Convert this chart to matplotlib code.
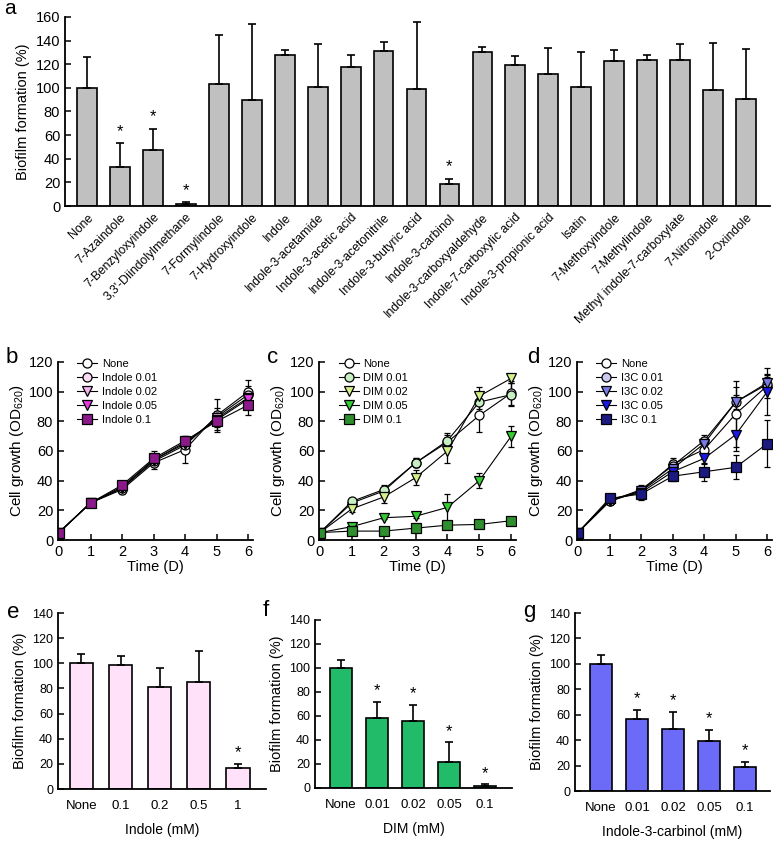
import numpy as np
import matplotlib
matplotlib.use("Agg")
import matplotlib.pyplot as plt

plt.rcParams["font.family"] = ["Liberation Sans", "DejaVu Sans"]
plt.rcParams["mathtext.fontset"] = "custom"
plt.rcParams["mathtext.rm"] = "Liberation Sans"
plt.rcParams["mathtext.it"] = "Liberation Sans"

# ---- panel a: biofilm with indole derivatives
compounds = ["None", "7-Azaindole", "7-Benzyloxyindole", "3,3'-Diindolylmethane",
             "7-Formylindole", "7-Hydroxyindole", "Indole", "Indole-3-acetamide",
             "Indole-3-acetic acid", "Indole-3-acetonitrile", "Indole-3-butyric acid",
             "Indole-3-carbinol", "Indole-3-carboxyaldehyde", "Indole-7-carboxylic acid",
             "Indole-3-propionic acid", "Isatin", "7-Methoxyindole", "7-Methylindole",
             "Methyl indole-7-carboxylate", "7-Nitroindole", "2-Oxindole"]
a_mean = [100, 33, 47, 2, 103, 90, 128, 101, 118, 131, 99, 19, 130, 119, 112, 101,
          123, 124, 124, 98, 91]
a_err = [26, 20, 18, 1, 42, 64, 4, 36, 10, 8, 57, 4, 5, 8, 22, 29, 9, 4, 13, 40, 42]
a_star = [1, 2, 3, 11]

# ---- panels b-d: growth curves
days = [0, 1, 2, 3, 4, 5, 6]
b_labels = ["None", "Indole 0.01", "Indole 0.02", "Indole 0.05", "Indole 0.1"]
b_vals = [[5, 25, 34, 52, 61, 84, 100],
          [5, 25, 35, 53, 64, 83, 98],
          [5, 25, 35, 54, 65, 82, 96],
          [5, 25, 36, 54, 66, 81, 95],
          [5, 25, 37, 55, 67, 80, 91]]
b_errs = [[1, 1.5, 3, 4, 9, 11, 8],
          [1, 1.5, 2, 3, 4, 6, 6],
          [1, 1.5, 2, 3, 4, 5, 5],
          [1, 1.5, 2, 3, 3, 5, 5],
          [1, 1.5, 3, 5, 3, 6, 7]]
c_labels = ["None", "DIM 0.01", "DIM 0.02", "DIM 0.05", "DIM 0.1"]
c_vals = [[5, 25, 33, 52, 66, 84, 99],
          [5, 26, 34, 52, 67, 93, 98],
          [5, 21, 29, 42, 60, 97, 109],
          [5, 9, 15, 16, 22, 40, 70],
          [5, 6, 6, 8, 10, 10.5, 13]]
c_errs = [[1, 2, 3, 3, 5, 11, 8],
          [1, 2, 3, 3, 5, 5, 8],
          [1, 2, 4, 5, 8, 6, 3],
          [1, 1, 1, 1, 9, 5, 7],
          [1, 1, 1, 1, 1, 1, 2]]
d_labels = ["None", "I3C 0.01", "I3C 0.02", "I3C 0.05", "I3C 0.1"]
d_vals = [[5, 26, 33, 51, 61, 85, 104],
          [5, 26, 34, 50, 67, 93, 105],
          [5, 27, 33, 48, 65, 93, 106],
          [5, 27, 32, 46, 55, 71, 100],
          [5, 28, 31, 43, 46, 49, 65]]
d_errs = [[1, 2, 3, 4, 5, 22, 8],
          [1, 2, 3, 4, 4, 10, 5],
          [1, 2, 3, 4, 4, 5, 5],
          [1, 2, 3, 3, 4, 11, 16],
          [1, 2, 4, 3, 6, 8, 16]]

# ---- panels e-g: biofilm dose response
e_ticks = ["None", "0.1", "0.2", "0.5", "1"]
e_mean = [100, 99, 81, 85, 17]
e_err = [7, 7, 15, 25, 3]
e_star = [4]
f_ticks = ["None", "0.01", "0.02", "0.05", "0.1"]
f_mean = [100, 58, 56, 22, 2]
f_err = [7, 14, 13, 16, 1]
f_star = [1, 2, 3, 4]
g_ticks = ["None", "0.01", "0.02", "0.05", "0.1"]
g_mean = [100, 57, 49, 39, 19]
g_err = [7, 7, 13, 9, 4]
g_star = [1, 2, 3, 4]

W, H = 777, 841


def box(l, t, r, b):
    return [l / W, 1 - b / H, (r - l) / W, (b - t) / H]


def letter(x, y, s, size=14):
    fig.text(x / W, 1 - y / H, s, fontsize=size, ha="left", va="center")


def style(ax):
    for sp in ("top", "right"):
        ax.spines[sp].set_visible(False)
    for sp in ("left", "bottom"):
        ax.spines[sp].set_linewidth(1.3)
    ax.tick_params(direction="in", width=1.1, length=4)


fig = plt.figure(figsize=(W / 100, H / 100), dpi=100)

# panel a
ax = fig.add_axes(box(65, 17, 770, 206))
style(ax)
x = np.arange(len(compounds))
ax.bar(x, a_mean, width=0.6, color="#c0c0c0", edgecolor="black", linewidth=1.2)
ax.errorbar(x, a_mean, yerr=[np.zeros(len(x)), a_err], fmt="none", ecolor="black",
            elinewidth=1.2, capsize=3, capthick=1.2)
for i in a_star:
    ax.text(i, a_mean[i] + a_err[i] + 4, "*", ha="center", va="bottom", fontsize=12)
ax.set_xlim(-0.67, len(compounds) - 0.27)
ax.set_ylim(0, 160)
ax.set_yticks(range(0, 161, 20))
ax.set_xticks(x)
ax.set_xticklabels(compounds, rotation=45, ha="right", rotation_mode="anchor", fontsize=8.8)
ax.tick_params(axis="x", length=0, pad=4)
ax.tick_params(axis="y", labelsize=10.5)
ax.set_ylabel("Biofilm formation (%)", fontsize=10.5)
letter(4, 9, "a", 15)

# panels b-d
growth = [("b", box(58, 362, 253, 540), b_labels, b_vals, b_errs,
           ["white", "#fadcf5", "#f3b3ee", "#e03ce0", "#8a1a8a"], 6),
          ("c", box(319, 362, 516, 540), c_labels, c_vals, c_errs,
           ["white", "#c8eec4", "#d4f08a", "#33cc33", "#2f8f2f"], 267),
          ("d", box(577, 362, 772, 540), d_labels, d_vals, d_errs,
           ["white", "#cacaee", "#7a7ae6", "#1a1ae6", "#1a1a80"], 527)]
markers = ["o", "o", "v", "v", "s"]
for tag, pos, labels, vals, errs, colors, lx in growth:
    ax = fig.add_axes(pos)
    style(ax)
    for lab, v, e, c, m in zip(labels, vals, errs, colors, markers):
        ax.errorbar(days, v, yerr=e, color="black", lw=0.8, elinewidth=0.9,
                    capsize=2.5, capthick=0.9, marker=m, markersize=6.5,
                    markerfacecolor=c, markeredgecolor="black", markeredgewidth=0.9,
                    label=lab)
    ax.set_xlim(-0.03, 6.15)
    ax.set_ylim(0, 120)
    ax.set_xticks(days)
    ax.set_yticks(range(0, 121, 20))
    ax.tick_params(labelsize=10.5)
    ax.set_xlabel("Time (D)", fontsize=10.5, labelpad=1)
    ax.set_ylabel("Cell growth (OD$_{620}$)", fontsize=11, labelpad=2)
    h, l = ax.get_legend_handles_labels()
    h = [hh[0] for hh in h]
    ax.legend(h, l, loc="upper left", bbox_to_anchor=(0.06, 1.06), frameon=False,
              fontsize=8, handlelength=1.8, handletextpad=0.4, labelspacing=0.35,
              borderpad=0.2)
    letter(lx, 357, tag, 16)

# panels e-g
doses = [("e", box(58, 613, 266, 789), e_ticks, e_mean, e_err, e_star, "#ffe2fa",
          "Indole (mM)", (-0.6, 4.72), 7, 612),
         ("f", box(315, 620, 512, 788), f_ticks, f_mean, f_err, f_star, "#22bb6a",
          "DIM (mM)", (-0.72, 4.75), 263, 610),
         ("g", box(575, 613, 770, 791), g_ticks, g_mean, g_err, g_star, "#6b6bf7",
          "Indole-3-carbinol (mM)", (-0.72, 4.69), 523, 612)]
for tag, pos, ticks, mean, err, stars, col, xl, lim, lx, ly in doses:
    ax = fig.add_axes(pos)
    style(ax)
    xx = np.arange(len(ticks))
    ax.bar(xx, mean, width=0.6, color=col, edgecolor="black", linewidth=1.2)
    ax.errorbar(xx, mean, yerr=[np.zeros(len(xx)), err], fmt="none", ecolor="black",
                elinewidth=1.2, capsize=3, capthick=1.2)
    for i in stars:
        ax.text(i, mean[i] + err[i] + 3, "*", ha="center", va="bottom", fontsize=12)
    ax.set_xlim(*lim)
    ax.set_ylim(0, 140)
    ax.set_yticks(range(0, 141, 20))
    ax.set_xticks(xx)
    ax.set_xticklabels(ticks, fontsize=9.5)
    ax.tick_params(axis="x", length=0, pad=8)
    ax.tick_params(axis="y", labelsize=9)
    ax.set_xlabel(xl, fontsize=10, labelpad=8)
    ax.set_ylabel("Biofilm formation (%)", fontsize=10.5, labelpad=4)
    letter(lx, ly, tag, 16)

fig.savefig("out.png", dpi=100)
